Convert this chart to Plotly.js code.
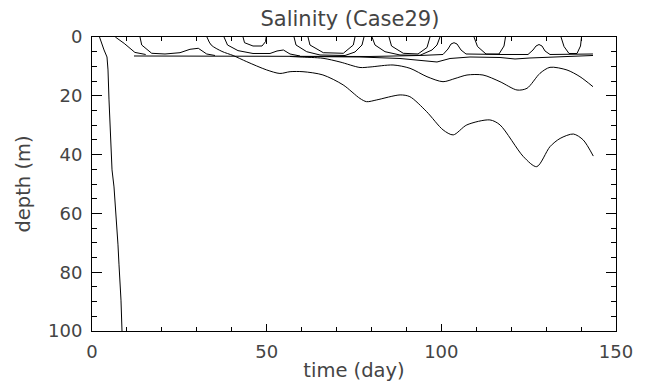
<!DOCTYPE html>
<html>
<head>
<meta charset="utf-8">
<script src="https://cdn.plot.ly/plotly-3.0.1.min.js"></script>
<style>html,body{margin:0;padding:0;background:#fff;}#chart{width:648px;height:392px;}</style>
</head>
<body>
<div id="chart"></div>
<script>
// Contour lines of salinity: time (day) vs depth (m)
const leftDay   = [2.15,2.58,3.44,4.29,4.58,4.87,5.15,5.73,6.30,6.58,6.87,7.16,7.44,7.73,8.02,8.30,8.59];
const leftDepth = [0,1.7,4.4,6.8,11.2,21.4,31.6,45.2,51.0,55.4,62.2,64.9,70.7,77.5,82.7,89.5,100];

const u1oDay   = [6.67,9.22,12.28,15.37];
const u1oDepth = [0,2.18,5.24,5.95];

const u1iDay   = [13.74,14.23,17.09,20.9,25.19,28.05,30.43,32.83,35.21];
const u1iDepth = [0,2.72,5.54,5.78,5.34,4.18,3.84,5.78,6.29];

const f1Day   = [12.02,45.23,79.58,93.89,100.48,101.91,102.77,103.63,104.49,105.63,107.06,116.8,124.81,126.24,127.1,127.96,128.82,129.68,131.11,143.41];
const f1Depth = [6.46,6.56,6.63,6.29,5.95,4.08,2.38,1.94,2.38,4.42,5.78,5.95,5.95,4.42,3.06,2.55,3.06,4.76,5.95,5.78];

const f2Day   = [59.54,76.72,88.17,95.33,98.76,102.48,108.21,116.8,121.09,125.38,133.97,143.41];
const f2Depth = [6.63,6.8,7.31,8.16,8.5,7.31,6.8,6.97,7.48,7.14,6.63,6.29];

const u2mDay   = [37.79,38.79,41.79,46.09,50.95,52.96,54.79,56.68,59.54];
const u2mDepth = [0,2.72,4.63,5.61,5.61,4.76,4.42,5.78,6.46];

const u2iDay   = [43.23,43.66,46.09,48.66,49.67,49.87];
const u2iDepth = [0,1.94,3.06,3.06,1.6,0];

const u3oDay   = [57.83,58.4,61.46,65.27,72.43,75.29,77.29,77.86];
const u3oDepth = [0,2.72,5.0,6.12,6.29,5.1,2.72,0];

const u3iDay   = [61.83,62.4,66.21,71.94,74.8,75.29];
const u3iDepth = [0,2.72,5.34,5.54,2.72,0];

const u4oDay   = [80.15,81.01,83.87,88.17,93.89,97.33,98.76,99.62];
const u4oDepth = [0,2.72,5.0,6.12,6.22,4.42,2.72,0];

const u4iDay   = [85.02,85.74,89.11,93.32,95.9,96.76];
const u4iDepth = [0,3.06,5.54,5.78,3.57,0];

const u5Day   = [109.35,110.35,112.79,116.51,117.94,118.37];
const u5Depth = [0,3.23,5.78,5.78,3.06,0];

const u6Day   = [134.26,135.12,136.55,138.84,139.84,140.13];
const u6Depth = [0,3.23,5.61,5.61,3.06,0];

const midDay   = [56.68,59.54,66.13,71.0,76.72,79.58,86.17,91.03,95.9,100.48,103.91,107.35,111.93,116.8,121.66,124.52,128.24,131.11,135.97,139.69,143.41];
const midDepth = [6.63,6.8,7.24,8.5,10.37,10.2,9.52,10.65,13.5,15.2,14.12,12.93,12.93,15.2,18.03,17.45,12.35,10.31,11.22,13.5,16.9];

const deepDay   = [32.9,34.1,37.2,40.4,44.3,50.0,53.8,56.7,60.4,66.1,71.9,76.7,78.6,81.5,88.2,91.0,95.8,100.5,103.4,107.3,113.9,116.8,123.5,127.3,131.1,134.0,137.8,140.6,143.5];
const deepDepth = [0,2.7,4.9,6.3,8.4,11.2,12.4,11.8,11.8,12.9,16.3,20.9,22.0,21.4,19.7,20.3,25.4,31.6,33.3,29.9,28.2,29.9,40.7,44.1,37.3,34.5,33.0,35.0,40.5];

const xTickVals = [0,50,100,150];
const yTickVals = [0,20,40,60,80,100];

const straight = [
  [leftDay,leftDepth],[u1oDay,u1oDepth],[u1iDay,u1iDepth],[f1Day,f1Depth],[f2Day,f2Depth],
  [u2mDay,u2mDepth],[u2iDay,u2iDepth],[u3oDay,u3oDepth],[u3iDay,u3iDepth],
  [u4oDay,u4oDepth],[u4iDay,u4iDepth],[u5Day,u5Depth],[u6Day,u6Depth]
];
const smooth = [[midDay,midDepth],[deepDay,deepDepth]];

const traces = [];
straight.forEach(p => traces.push({x:p[0], y:p[1], type:'scatter', mode:'lines',
  line:{color:'#000', width:1}, hoverinfo:'skip', showlegend:false}));
smooth.forEach(p => traces.push({x:p[0], y:p[1], type:'scatter', mode:'lines',
  line:{color:'#000', width:1, shape:'spline', smoothing:0.8}, hoverinfo:'skip', showlegend:false}));

const tickFont  = {family:'DejaVu Sans, sans-serif', size:18, color:'#444'};
const titleFont = {family:'DejaVu Sans, sans-serif', size:19.5, color:'#444'};
const layout = {
  width:648, height:392,
  margin:{l:92, r:32, t:37, b:61},
  paper_bgcolor:'#fff', plot_bgcolor:'#fff',
  font: tickFont,
  title:{text:'Salinity (Case29)', font:{family:'DejaVu Sans, sans-serif', size:21, color:'#444'},
         x:0.54, xanchor:'center', y:0.953, yanchor:'middle'},
  xaxis:{range:[0,150], tickvals:xTickVals, ticks:'inside', ticklen:7, tickwidth:1, tickcolor:'#000',
         minor:{dtick:10, ticks:'inside', ticklen:4, tickwidth:1, tickcolor:'#000'},
         showline:true, linecolor:'#000', linewidth:1, mirror:'ticks', showgrid:false, zeroline:false,
         tickfont:tickFont, ticklabelstandoff:4,
         title:{text:'time (day)', font:titleFont, standoff:2}},
  yaxis:{range:[100,0], tickvals:yTickVals, ticks:'inside', ticklen:10, tickwidth:1, tickcolor:'#000',
         minor:{dtick:5, ticks:'inside', ticklen:5, tickwidth:1, tickcolor:'#000'},
         showline:true, linecolor:'#000', linewidth:1, mirror:'ticks', showgrid:false, zeroline:false,
         tickfont:tickFont, ticklabelstandoff:5,
         title:{text:'depth (m)', font:titleFont, standoff:12}}
};
Plotly.newPlot('chart', traces, layout, {displayModeBar:false, staticPlot:true});
</script>
</body>
</html>
